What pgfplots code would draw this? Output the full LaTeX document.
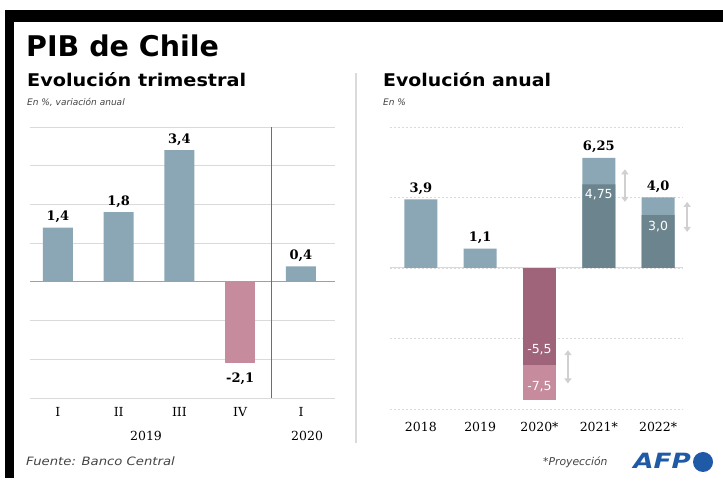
\documentclass[border=0pt]{standalone}
\usepackage{pgfplots}
\pgfplotsset{compat=1.18}
\usepackage{fontspec}
\setmainfont{DejaVu Sans}
\newfontfamily\numfont{DejaVu Serif}
\usetikzlibrary{arrows.meta}
\definecolor{bluegray}{HTML}{8BA7B5}
\definecolor{darkblue}{HTML}{6C848E}
\definecolor{pinkbar}{HTML}{C68C9E}
\definecolor{darkpink}{HTML}{A0647A}
\definecolor{gridgray}{HTML}{DADADA}
\definecolor{zerogray}{HTML}{A0A0A0}
\definecolor{sepgray}{HTML}{6E6E6E}
\definecolor{arrowgray}{HTML}{D0D0D0}
\definecolor{afpblue}{HTML}{1F5AA6}
\definecolor{txtgray}{HTML}{444444}
\begin{document}
\begin{tikzpicture}[x=1pt,y=1pt]
\useasboundingbox (0,0) rectangle (723,481);
\fill[white] (0,0) rectangle (723,481);
\fill[black] (5,459) rectangle (723,471);
\fill[black] (5,3) rectangle (14,471);
% separator between panels
\draw[gridgray, line width=1.5pt] (356,408) -- (356,38);
% titles
\node[anchor=base west, inner sep=0, font=\fontsize{28.5}{30}\selectfont\bfseries] at (26,424) {PIB de Chile};
\node[anchor=base west, inner sep=0, xscale=1.1, font=\fontsize{17.5}{19}\selectfont\bfseries] at (27,394) {Evolución trimestral};
\node[anchor=base west, inner sep=0, text=txtgray, font=\fontsize{9}{10}\selectfont\itshape] at (27,375) {En \%, variación anual};
\node[anchor=base west, inner sep=0, xscale=1.08, font=\fontsize{17.5}{19}\selectfont\bfseries] at (383,394) {Evolución anual};
\node[anchor=base west, inner sep=0, text=txtgray, font=\fontsize{9}{10}\selectfont\itshape] at (383,375) {En \%};
% footer
\node[anchor=base west, inner sep=0, text=txtgray, xscale=1.15, font=\fontsize{11.5}{12}\selectfont\itshape] at (26,15) {Fuente: Banco Central};
\node[anchor=base west, inner sep=0, text=txtgray, font=\fontsize{10.8}{12}\selectfont\itshape] at (543,15) {*Proyección};
\node[anchor=base west, inner sep=0, text=afpblue, xscale=1.25, font=\fontsize{21}{21}\selectfont\bfseries\itshape] at (633,12) {AFP};
\fill[afpblue] (703,19) circle (10);

% ---------- left panel ----------
\begin{axis}[at={(30pt,83pt)}, anchor=south west, scale only axis,
  width=305pt, height=271pt,
  xmin=-0.46, xmax=4.56, ymin=-3, ymax=4,
  axis line style={draw=none}, major tick length=0pt,
  ytick={-3,-2,-1,0,1,2,3,4}, yticklabels={},
  ymajorgrids, grid style={gridgray, line width=0.8pt},
  xtick={0,1,2,3,4}, xticklabels={I,II,III,IV,I},
  xticklabel style={anchor=base, yshift=-19pt, font=\numfont\fontsize{12.5}{12}\selectfont},
  clip=false]
\addplot[zerogray, line width=0.8pt] coordinates {(-0.46,0) (4.56,0)};
\addplot[ybar, bar width=30pt, fill=bluegray, draw=none] coordinates {(0,1.4) (1,1.8) (2,3.4) (4,0.4)};
\addplot[ybar, bar width=30pt, fill=pinkbar, draw=none] coordinates {(3,-2.1)};
\addplot[sepgray, line width=0.8pt] coordinates {(3.52,-3) (3.52,4)};
\begin{scope}[every node/.style={anchor=base, font=\numfont\bfseries\fontsize{13}{13}\selectfont}]
\node[yshift=7pt] at (axis cs:0,1.4) {1,4};
\node[yshift=7pt] at (axis cs:1,1.8) {1,8};
\node[yshift=7pt] at (axis cs:2,3.4) {3,4};
\node[yshift=7pt] at (axis cs:4,0.4) {0,4};
\node[yshift=-19pt] at (axis cs:3,-2.1) {-2,1};
\end{scope}
\node[anchor=base, yshift=-43pt, font=\numfont\fontsize{12.5}{12}\selectfont] at (axis cs:1.45,-3) {2019};
\node[anchor=base, yshift=-43pt, font=\numfont\fontsize{12.5}{12}\selectfont] at (axis cs:4.1,-3) {2020};
\end{axis}

% ---------- right panel ----------
\begin{axis}[at={(390pt,72pt)}, anchor=south west, scale only axis,
  width=293pt, height=282pt,
  xmin=-0.52, xmax=4.42, ymin=-8, ymax=8,
  axis line style={draw=none}, major tick length=0pt,
  ytick={-8,-4,0,4,8}, yticklabels={},
  ymajorgrids, grid style={gridgray, line width=0.8pt, dash pattern=on 2pt off 2pt},
  xtick={0,1,2,3,4}, xticklabels={2018,2019,2020*,2021*,2022*},
  xticklabel style={anchor=base, yshift=-23pt, font=\numfont\fontsize{12.5}{12}\selectfont},
  clip=false]
\addplot[gridgray, line width=1pt] coordinates {(-0.52,0) (4.42,0)};
\addplot[ybar, bar width=33pt, fill=bluegray, draw=none] coordinates {(0,3.9) (1,1.1) (3,6.25) (4,4.0)};
\addplot[ybar, bar width=33pt, fill=pinkbar, draw=none] coordinates {(2,-7.5)};
\addplot[ybar, bar width=33pt, fill=darkblue, draw=none] coordinates {(3,4.75) (4,3.0)};
\addplot[ybar, bar width=33pt, fill=darkpink, draw=none] coordinates {(2,-5.5)};
% range arrows
\addplot[arrowgray, line width=2pt, {Triangle[width=7pt,length=5pt]}-{Triangle[width=7pt,length=5pt]}] coordinates {(3.44,5.6) (3.44,3.75)};
\addplot[arrowgray, line width=2pt, {Triangle[width=7pt,length=5pt]}-{Triangle[width=7pt,length=5pt]}] coordinates {(4.49,3.75) (4.49,2.05)};
\addplot[arrowgray, line width=2pt, {Triangle[width=7pt,length=5pt]}-{Triangle[width=7pt,length=5pt]}] coordinates {(2.48,-4.66) (2.48,-6.55)};
\begin{scope}[every node/.style={anchor=base, font=\numfont\bfseries\fontsize{13}{13}\selectfont}]
\node[yshift=7pt] at (axis cs:0,3.9) {3,9};
\node[yshift=7pt] at (axis cs:1,1.1) {1,1};
\node[yshift=7pt] at (axis cs:3,6.25) {6,25};
\node[yshift=7pt] at (axis cs:4,4.0) {4,0};
\end{scope}
\begin{scope}[every node/.style={anchor=center, text=white, font=\fontsize{12.5}{12}\selectfont}]
\node at (axis cs:3,4.15) {4,75};
\node at (axis cs:4,2.33) {3,0};
\node at (axis cs:2,-4.66) {-5,5};
\node at (axis cs:2,-6.76) {-7,5};
\end{scope}
\end{axis}
\end{tikzpicture}
\end{document}
